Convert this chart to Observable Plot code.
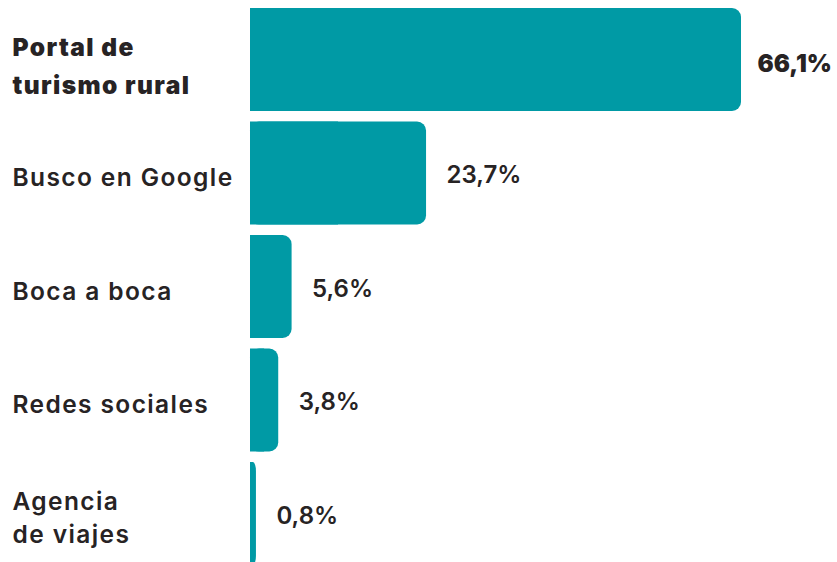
<!DOCTYPE html>
<html>
<head>
<meta charset="utf-8">
<script src="https://cdn.jsdelivr.net/npm/d3@7"></script>
<script src="https://cdn.jsdelivr.net/npm/@observablehq/plot@0.6"></script>
<style>
  html, body { margin: 0; padding: 0; background: #fff; overflow: hidden; }
  #chart svg { display: block; }
</style>
</head>
<body>
<div id="chart"></div>
<script>
const categories = ["Portal de\nturismo rural", "Busco en Google", "Boca a boca", "Redes sociales", "Agencia\nde viajes"];
const values = [66.1, 23.7, 5.6, 3.8, 0.8];
const highlighted = ["Portal de\nturismo rural"];

const data = categories.map((c, i) => ({
  cat: c,
  value: values[i],
  label: values[i].toFixed(1).replace(".", ",") + "%",
  hi: highlighted.includes(c)
}));

const teal = "#009aa5";
const ink = "#272324";
const font = "Inter, 'Open Sans', sans-serif";

const chart = Plot.plot({
  width: 837,
  height: 565,
  marginLeft: 250,
  marginRight: 96,
  marginTop: 8,
  marginBottom: 0,
  style: { fontFamily: font, background: "#fff" },
  x: { domain: [0, 66.1], axis: null },
  y: { domain: categories, axis: null, paddingInner: 0.0925, paddingOuter: 0, align: 0, round: false },
  marks: [
    Plot.barX(data, { y: "cat", x: "value", fill: teal, rx: 9 }),
    Plot.barX(data, { y: "cat", x1: 0, x2: d => d.value / 2, fill: teal }),
    Plot.text(data.filter(d => !d.hi), {
      y: "cat", text: "cat", frameAnchor: "left", dx: -238, dy: 2, textAnchor: "start",
      fontSize: 24.5, fontWeight: 600, fill: ink, lineHeight: 1.36
    }),
    Plot.text(data.filter(d => d.hi), {
      y: "cat", text: "cat", frameAnchor: "left", dx: -238, dy: 3, textAnchor: "start",
      fontSize: 24.5, fontWeight: 900, fill: ink, lineHeight: 1.52
    }),
    Plot.text(data.filter(d => !d.hi), {
      y: "cat", x: "value", text: "label", dx: 20, dy: 2, textAnchor: "start",
      fontSize: 24, fontWeight: 600, fill: ink
    }),
    Plot.text(data.filter(d => d.hi), {
      y: "cat", x: "value", text: "label", dx: 16, dy: 4, textAnchor: "start",
      fontSize: 24, fontWeight: 900, fill: ink
    })
  ]
});
const textGroups = chart.querySelectorAll('g[aria-label="text"]');
[0, 1].forEach(i => {
  if (textGroups[i]) textGroups[i].style.letterSpacing = "1.4px";
});
document.getElementById("chart").appendChild(chart);
</script>
</body>
</html>
